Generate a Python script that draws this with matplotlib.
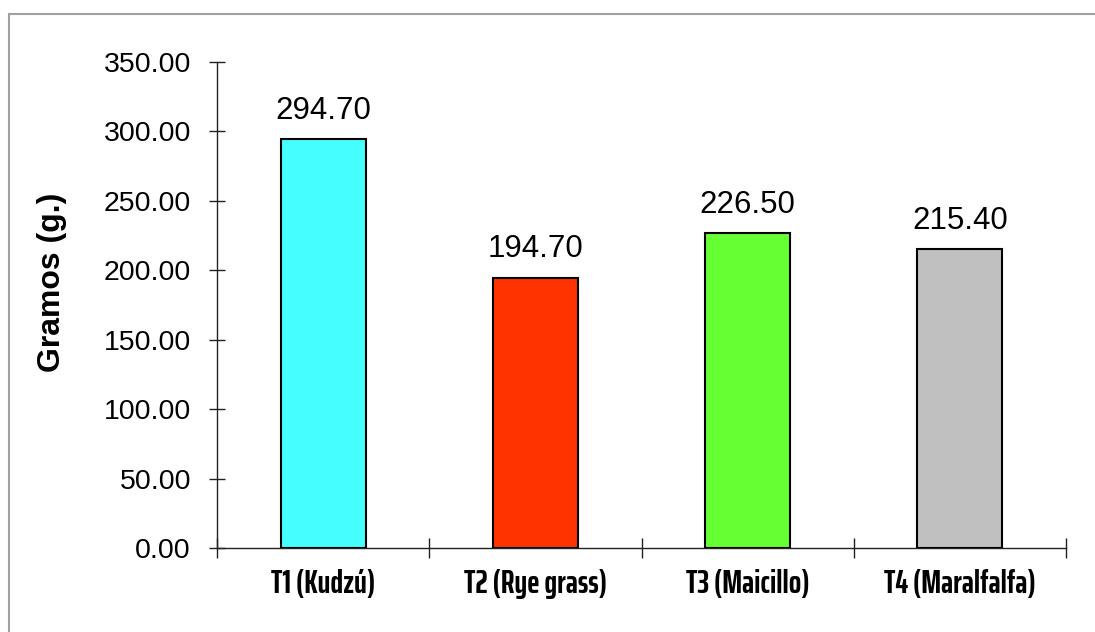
import matplotlib
matplotlib.use("Agg")
import matplotlib.pyplot as plt
from matplotlib import font_manager
from matplotlib.patches import Rectangle

categories = ["T1 (Kudzú)", "T2 (Rye grass)", "T3 (Maicillo)", "T4 (Maralfalfa)"]
values = [294.70, 194.70, 226.50, 215.40]
colors = ["#45FFFF", "#FF3300", "#66FF33", "#C0C0C0"]
yticks = [0, 50, 100, 150, 200, 250, 300, 350]
ylabel = "Gramos (g.)"

names = {f.name for f in font_manager.fontManager.ttflist}
xfam = "DejaVu Sans"
for cand in ["Saira Extra Condensed", "Saira ExtraCondensed", "Barlow Condensed",
             "Saira Condensed", "Oswald", "Open Sans Condensed"]:
    if cand in names:
        xfam = cand
        break
xfont = dict(family=xfam, weight="bold")

W, H = 1095, 632
fig = plt.figure(figsize=(W / 100, H / 100), dpi=100)
fig.patches.append(Rectangle((9 / W, -0.1), 1.2, 1.1 - 14 / H, transform=fig.transFigure,
                             fill=False, edgecolor="#A0A0A0", linewidth=1.5))
ax = fig.add_axes([217 / W, 1 - 548 / H, (1066 - 217) / W, (548 - 62) / H])

n = len(categories)
xs = list(range(n))
ax.bar(xs, values, width=0.4, color=colors, edgecolor="black", linewidth=1.5, zorder=3)
for x, v in zip(xs, values):
    ax.annotate(f"{v:.2f}", (x, v), xytext=(0, 9.5), textcoords="offset points",
                ha="center", va="bottom", fontsize=22.5, family="Liberation Sans")

ax.set_xlim(-0.5, n - 0.5)
ax.set_ylim(0, 350)
ax.set_yticks(yticks)
ax.set_yticklabels([f"{t:.2f}" for t in yticks], family="Liberation Sans", fontsize=20.5)
ax.tick_params(axis="y", direction="inout", length=11.5, width=1, color="#222222", pad=13)

ax.set_xticks([i - 0.5 for i in range(n + 1)])
ax.set_xticklabels([])
ax.tick_params(axis="x", which="major", direction="inout", length=14.4, width=1, color="#222222")
ax.set_xticks(xs, minor=True)
ax.set_xticklabels(categories, minor=True, fontsize=23.5, **xfont)
ax.tick_params(axis="x", which="minor", length=0, pad=15)

for s in ["top", "right"]:
    ax.spines[s].set_visible(False)
for s in ["left", "bottom"]:
    ax.spines[s].set_color("#222222")
    ax.spines[s].set_linewidth(1)

ax.set_ylabel(ylabel, family="Liberation Sans", weight="bold", fontsize=23)
ax.yaxis.set_label_coords((67 - 217) / (1066 - 217), (548 - 282) / (548 - 62))

fig.savefig("out.png", dpi=100)
